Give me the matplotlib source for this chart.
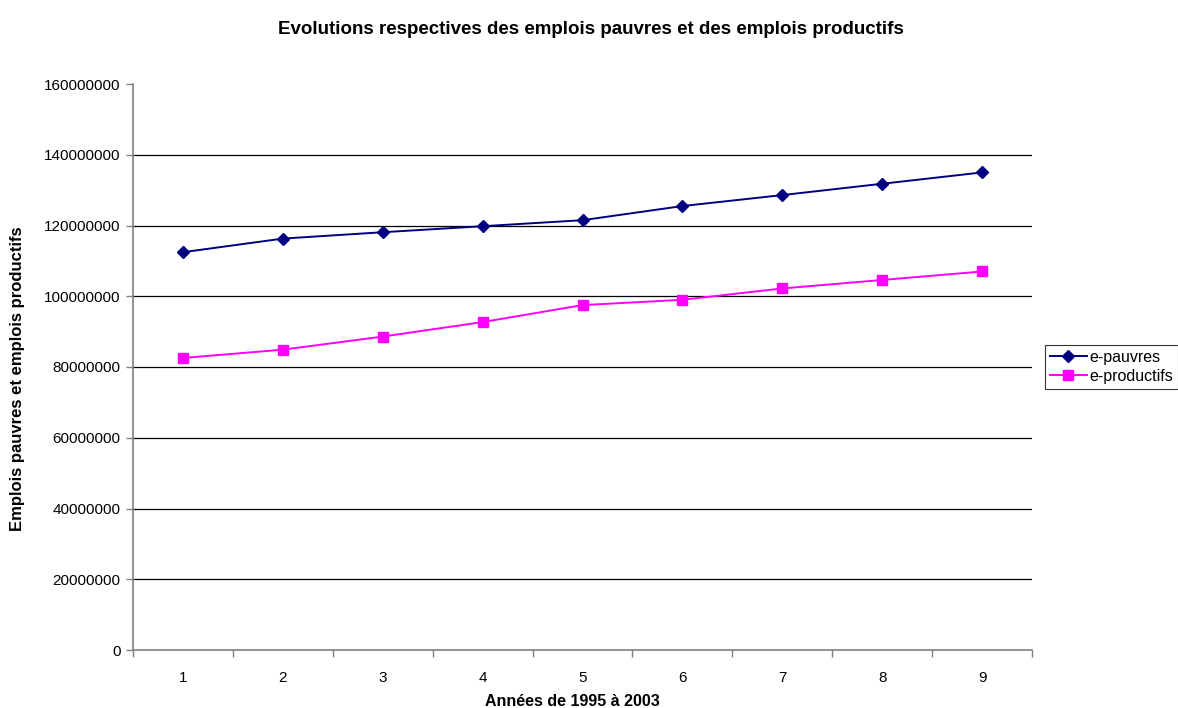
import numpy as np
import matplotlib.pyplot as plt

plt.rcParams['font.family'] = ['Liberation Sans', 'DejaVu Sans']

annees = [1, 2, 3, 4, 5, 6, 7, 8, 9]
e_pauvres = [112.45e6, 116.3e6, 118.1e6, 119.8e6, 121.5e6, 125.5e6, 128.6e6, 131.8e6, 135.0e6]
e_productifs = [82.55e6, 84.9e6, 88.6e6, 92.7e6, 97.5e6, 99.0e6, 102.2e6, 104.6e6, 107.0e6]
y_ticks = np.arange(0, 160000001, 20000000)

W, H = 1178, 708
fig = plt.figure(figsize=(W / 100, H / 100), dpi=100)
ax = fig.add_axes([133 / W, (H - 650) / H, (1032 - 133) / W, (650 - 84) / H])

# horizontal gridlines, none at the very top
for v in y_ticks[1:-1]:
    ax.axhline(v, color='black', lw=0.9, zorder=1)

ax.plot(annees, e_pauvres, color='#000080', lw=1.4, marker='D', ms=6,
        label='e-pauvres', zorder=3)
ax.plot(annees, e_productifs, color='#FF00FF', lw=1.4, marker='s', ms=6.5,
        label='e-productifs', zorder=3)

ax.set_xlim(0.5, 9.5)
ax.set_ylim(0, 160000000)
ax.set_yticks(y_ticks)
ax.set_yticklabels([str(v) for v in y_ticks])

# category axis: ticks between categories, labels centred
ax.set_xticks(np.arange(0.5, 10, 1))
ax.set_xticklabels([])
ax.set_xticks(annees, minor=True)
ax.set_xticklabels([str(a) for a in annees], minor=True)
ax.tick_params(axis='x', which='minor', length=0, pad=15, labelsize=11)
ax.tick_params(axis='x', which='major', length=5, color='#808080', width=1)
ax.tick_params(axis='y', length=5, color='#808080', width=1, labelsize=11, pad=4)

for s in ['top', 'right']:
    ax.spines[s].set_visible(False)
for s in ['left', 'bottom']:
    ax.spines[s].set_color('#808080')
    ax.spines[s].set_linewidth(1.2)

fig.text(572 / W, 1 - 701 / H, 'Années de 1995 à 2003', ha='center', va='center',
         fontsize=11.5, fontweight='bold')
fig.text(18 / W, 1 - 379 / H, 'Emplois pauvres et emplois productifs', ha='center',
         va='center', rotation=90, fontsize=12, fontweight='bold')

fig.text(591 / W, 1 - 30 / H,
         'Evolutions respectives des emplois pauvres et des emplois productifs',
         ha='center', va='center', fontsize=13.5, fontweight='bold')

leg = fig.legend(loc='center left', bbox_to_anchor=(1045 / W, 1 - 367 / H),
                 fontsize=11.5, frameon=True, fancybox=False, handlelength=2.3,
                 borderpad=0.3, labelspacing=0.25, handletextpad=0.2,
                 borderaxespad=0)
leg.get_frame().set_edgecolor('black')
leg.get_frame().set_linewidth(0.8)

fig.savefig('out.png', dpi=100)
